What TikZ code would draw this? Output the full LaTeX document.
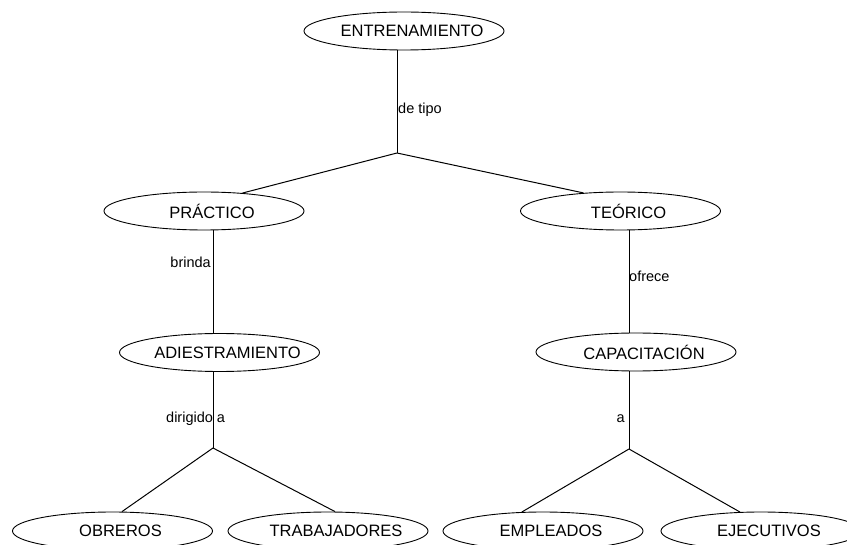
\documentclass[tikz,border=0pt]{standalone}
\usepackage{fontspec}
\setmainfont{Liberation Sans}
\usetikzlibrary{shapes.geometric}
\newcommand{\ctext}[1]{\makebox[0pt]{\hspace{16pt}#1}}
\tikzset{
  concept/.style={draw, ellipse, line width=0.9pt, minimum width=200pt, minimum height=38pt, inner sep=0pt,
    font=\fontsize{16.5}{18}\selectfont},
  lbl/.style={inner sep=0pt, font=\fontsize{14.5}{16}\selectfont},
  conn/.style={line width=1pt}
}
\begin{document}
\begin{tikzpicture}[x=1pt, y=-1pt]
\useasboundingbox (0,0) rectangle (847,545);
\clip (0,0) rectangle (847,545);
\node[concept] (ent) at (404,31) {\ctext{ENTRENAMIENTO}};
\node[concept] (prac) at (204,211) {\ctext{PRÁCTICO}};
\node[concept] (teo) at (620.5,211) {\ctext{TEÓRICO}};
\node[concept] (adi) at (219.5,352.5) {\ctext{ADIESTRAMIENTO}};
\node[concept] (cap) at (636,352) {\ctext{CAPACITACIÓN}};
\node[concept] (obr) at (112.5,531) {\ctext{OBREROS}};
\node[concept] (tra) at (328,531) {\ctext{TRABAJADORES}};
\node[concept] (emp) at (543,531) {\ctext{EMPLEADOS}};
\node[concept] (eje) at (761,531) {\ctext{EJECUTIVOS}};
\coordinate (j1) at (397,153);
\coordinate (j2) at (213,448);
\coordinate (j3) at (629,449);
\draw[conn] (ent.south -| j1) -- (j1);
\draw[conn] (j1) -- (prac.25);
\draw[conn] (j1) -- (teo.154);
\draw[conn] (prac.south -| j2) -- (adi.north -| j2);
\draw[conn] (adi.south -| j2) -- (j2);
\draw[conn] (j2) -- (obr.64);
\draw[conn] (j2) -- (tra.70);
\draw[conn] (teo.south -| j3) -- (cap.north -| j3);
\draw[conn] (cap.south -| j3) -- (j3);
\draw[conn] (j3) -- (emp.138);
\draw[conn] (j3) -- (eje.138);
\node[lbl, anchor=base west] (l1) at (398,114) {de tipo};
\node[lbl, anchor=base east] (l2) at (211,268) {brinda};
\node[lbl, anchor=base west] (l3) at (629,282) {ofrece};
\node[lbl, anchor=base west] (l4) at (166,423) {dirigido a};
\node[lbl, anchor=base east] (l5) at (625,423) {a};
\end{tikzpicture}
\end{document}
